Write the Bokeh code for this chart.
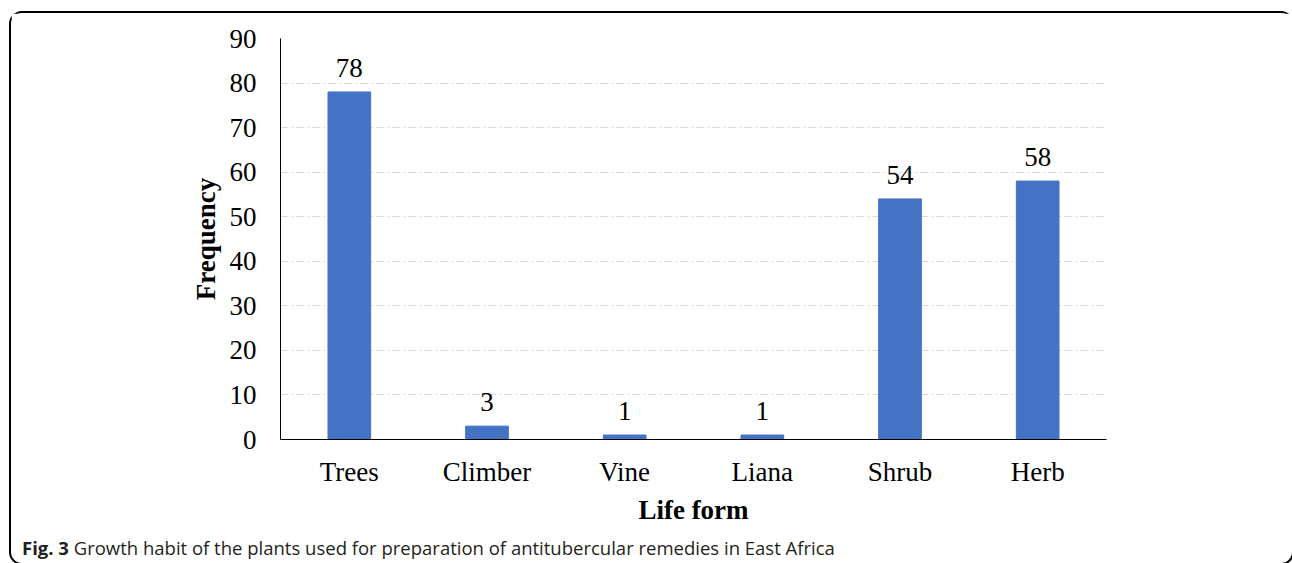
from bokeh.plotting import figure
from bokeh.models import ColumnDataSource, LabelSet, Range1d, FixedTicker, Div
from bokeh.layouts import column
from bokeh.embed import file_html
from bokeh.resources import INLINE

categories = ["Trees", "Climber", "Vine", "Liana", "Shrub", "Herb"]
frequency = [78, 3, 1, 1, 54, 58]
y_ticks = [0, 10, 20, 30, 40, 50, 60, 70, 80, 90]
x_title = "Life form"
y_title = "Frequency"
caption_bold = "Fig. 3"
caption_text = "Growth habit of the plants used for preparation of antitubercular remedies in East Africa"

SERIF = "Liberation Serif"
FS = "27px"

src = ColumnDataSource(dict(cat=categories, val=frequency, lab=[str(v) for v in frequency]))

p = figure(x_range=categories, width=1281, height=520, output_backend="svg",
           toolbar_location=None, min_border_left=269, min_border_right=186,
           min_border_top=25, min_border_bottom=94, margin=0)
p.y_range = Range1d(0, 90)
p.vbar(x="cat", top="val", width=0.31, source=src, fill_color="#4472C4", line_color="#4472C4")

labels = LabelSet(x="cat", y="val", text="lab", source=src, text_align="center",
                  text_baseline="alphabetic", y_offset=15, text_font_size=FS,
                  text_font=SERIF, text_color="#000000")
p.add_layout(labels)

p.outline_line_color = None
p.xgrid.grid_line_color = None
p.ygrid.grid_line_color = "#d9d9d9"
p.ygrid.grid_line_dash = "8 3 2 3"
p.ygrid.grid_line_width = 1

p.yaxis.ticker = FixedTicker(ticks=y_ticks)
for ax in (p.xaxis, p.yaxis):
    ax.major_tick_line_color = None
    ax.minor_tick_line_color = None
    ax.major_label_text_font = SERIF
    ax.major_label_text_font_size = FS
    ax.major_label_text_color = "#000000"
    ax.axis_label_text_font = SERIF
    ax.axis_label_text_font_size = FS
    ax.axis_label_text_font_style = "bold"
    ax.axis_label_text_color = "#000000"
    ax.axis_line_color = "#000000"
    ax.axis_line_width = 1

p.xaxis.axis_label = x_title
p.yaxis.axis_label = y_title
p.xaxis.major_label_standoff = 11
p.yaxis.major_label_standoff = 18
p.xaxis.axis_label_standoff = 5
p.yaxis.axis_label_standoff = 6

cap = Div(text=f"<b>{caption_bold}</b> {caption_text}", width=1281, height=30, margin=0,
          styles={"font-family": "'Open Sans', sans-serif", "font-size": "18.5px",
                  "line-height": "20px", "color": "#231f20", "padding-left": "11px",
                  "padding-top": "5px", "box-sizing": "border-box", "white-space": "nowrap"})

inner = column(p, cap, spacing=0,
               styles={"border": "2px solid #000000", "border-radius": "13px",
                       "margin-left": "9px", "margin-top": "11px", "flex-shrink": "0"})

outer = column(inner, width=1292, height=563, spacing=0,
               styles={"overflow": "hidden"})

open("out.html", "w").write(file_html(outer, INLINE))
